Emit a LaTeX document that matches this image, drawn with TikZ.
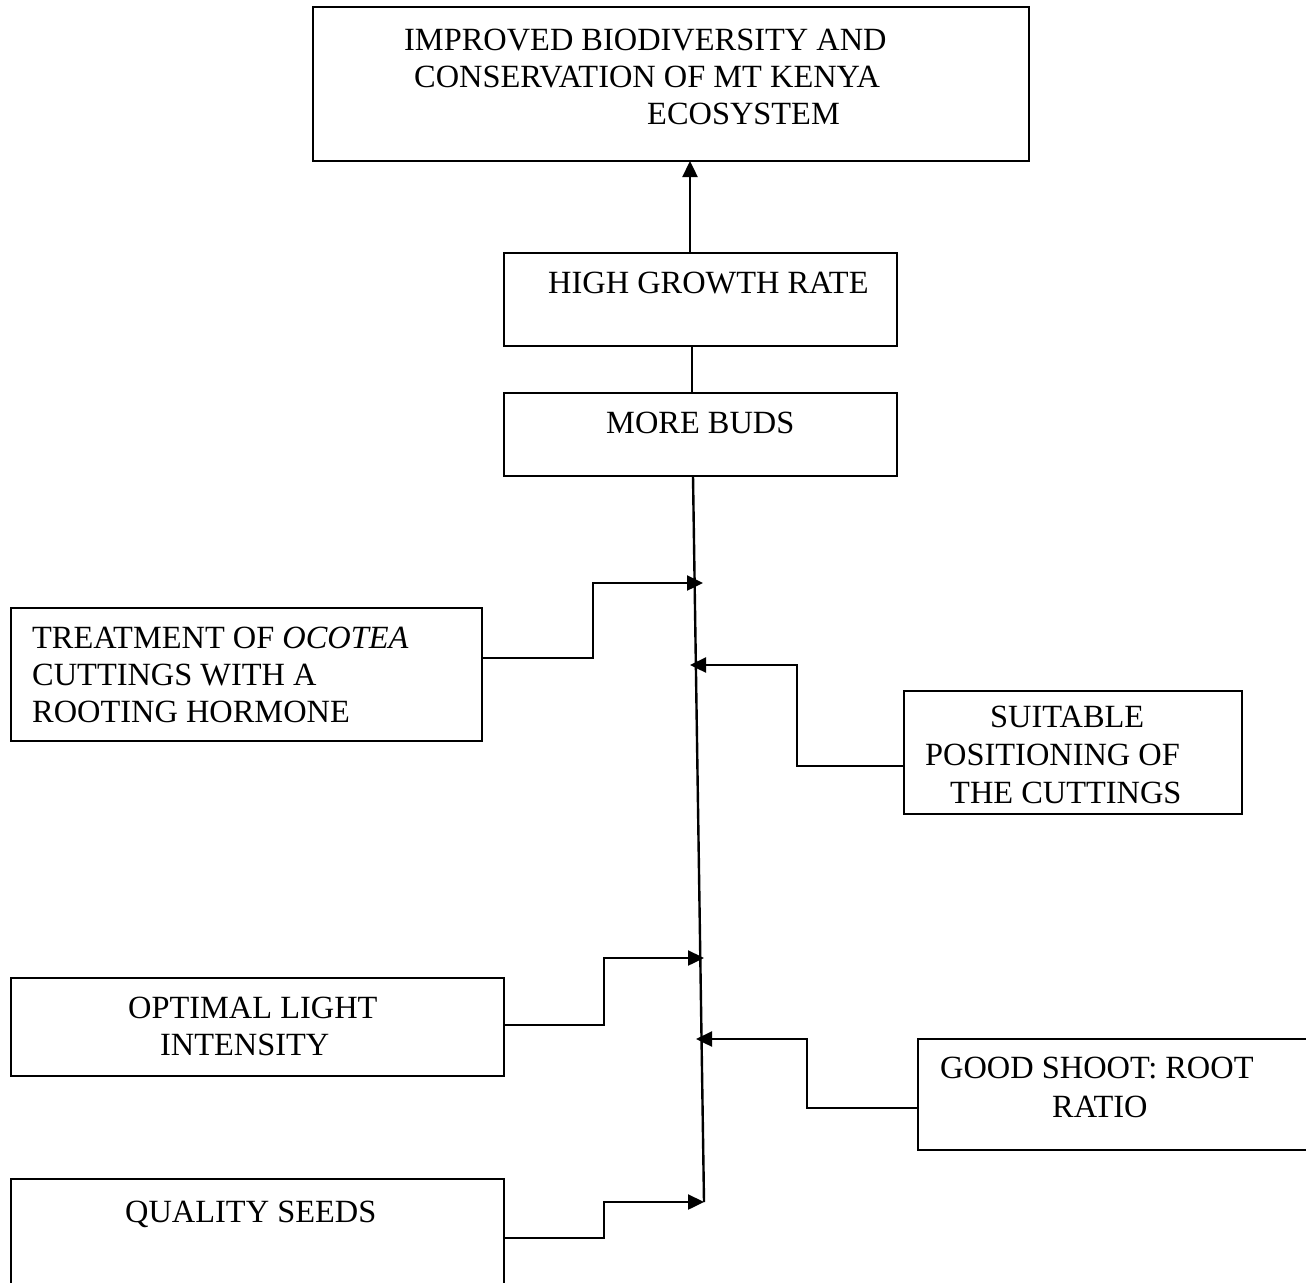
\documentclass[tikz,border=0pt]{standalone}
\usepackage{fontspec}
\setmainfont{Liberation Serif}
\usetikzlibrary{arrows.meta}
\begin{document}
\begin{tikzpicture}[x=1pt,y=-1pt,
  box/.style={draw, line width=2.2pt, inner sep=0pt, outer sep=0pt, anchor=north west},
  txt/.style={anchor=base west, inner sep=0pt, font=\fontsize{32.4}{37}\selectfont},
  conn/.style={line width=2.4pt},
  arr/.style={conn, -{Triangle[length=16pt,width=15pt]}}]
\useasboundingbox (0,0) rectangle (1306,1282);

% boxes
\node[box, minimum width=716pt, minimum height=154pt] (goal) at (313,7) {};
\node[box, minimum width=393pt, minimum height=93pt] (high) at (504,253) {};
\node[box, minimum width=393pt, minimum height=83pt] (buds) at (504,393) {};
\node[box, minimum width=471pt, minimum height=133pt] (treat) at (11,608) {};
\node[box, minimum width=338pt, minimum height=123pt] (suit) at (904,691) {};
\node[box, minimum width=493pt, minimum height=98pt] (light) at (11,978) {};
\node[box, minimum width=400pt, minimum height=111pt] (shoot) at (918,1039) {};
\node[box, minimum width=493pt, minimum height=120pt] (seeds) at (11,1179) {};

% texts
\node[txt] (g1) at (404,50) {IMPROVED BIODIVERSITY AND};
\node[txt] (g2) at (414,87) {CONSERVATION OF MT KENYA};
\node[txt] (g3) at (647,124) {ECOSYSTEM};
\node[txt] (h1) at (548,293) {HIGH GROWTH RATE};
\node[txt] (b1) at (606,433) {MORE BUDS};
\node[txt] (t1a) at (32,648) {TREATMENT OF \textit{OCOTEA}};
\node[txt] (t1b) at (32,685) {CUTTINGS WITH A};
\node[txt] (t1c) at (32,722) {ROOTING HORMONE};
\node[txt] (s1) at (990,727) {SUITABLE};
\node[txt] (s2) at (925,765) {POSITIONING OF};
\node[txt] (s3) at (950,803) {THE CUTTINGS};
\node[txt] (l1) at (128,1018) {OPTIMAL LIGHT};
\node[txt] (l2) at (160,1055) {INTENSITY};
\node[txt] (r1) at (940,1078) {GOOD SHOOT: ROOT};
\node[txt] (r2) at (1052,1117) {RATIO};
\node[txt] (q1) at (125,1222) {QUALITY SEEDS};

% points on the main line
\coordinate (mend) at (704,1202);
\coordinate (p1) at (703,583);
\coordinate (p2) at (690,665);
\coordinate (p3) at (704,958);
\coordinate (p4) at (696,1039);

% main spine
\draw[arr] ([xshift=186pt]high.north west) -- ([xshift=186pt]high.north west |- goal.south);
\draw[conn] ([xshift=188pt]high.south west) -- ([xshift=188pt]buds.north west);
\draw[conn] ([xshift=189pt]buds.south west) -- (mend);

% side inputs
\draw[arr] ([yshift=-50pt]treat.north east) -- ++(111,0) |- (p1);
\draw[arr] ([yshift=-75pt]suit.north west) -- ++(-107,0) |- (p2);
\draw[arr] ([yshift=-47pt]light.north east) -- ++(100,0) |- (p3);
\draw[arr] ([yshift=-69pt]shoot.north west) -- ++(-111,0) |- (p4);
\draw[arr] ([yshift=-59pt]seeds.north east) -- ++(100,0) |- (mend);
\end{tikzpicture}
\end{document}
